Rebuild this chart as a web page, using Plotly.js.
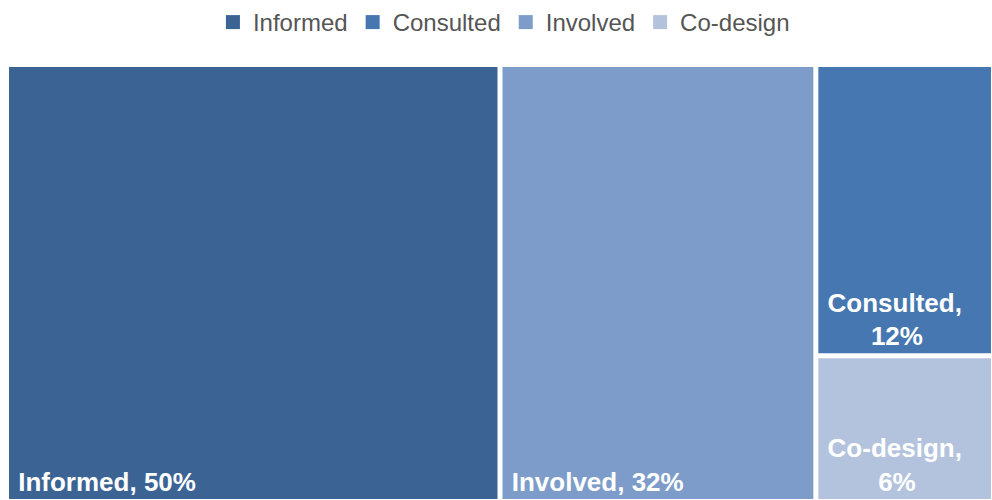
<!DOCTYPE html>
<html>
<head>
<meta charset="utf-8">
<script src="https://cdn.plot.ly/plotly-3.0.1.min.js"></script>
<style>html,body{margin:0;padding:0;background:#fff;}#chart{width:992px;height:500px;}</style>
</head>
<body>
<div id="chart"></div>
<script>
const categories = ["Informed", "Consulted", "Involved", "Co-design"];
const values = [50, 12, 32, 6];
const colors = ["#3b6494", "#4677b0", "#7d9cc9", "#b4c3dd"];
const wrapLabel = [false, true, false, true];

const NB = "\u00a0";
// label text: narrow tiles wrap onto two lines, second line roughly centred
const textLabels = categories.map((c, i) => {
  if (!wrapLabel[i]) return NB + c + ", " + values[i] + "%";
  const pad = NB.repeat(String(values[i]).length > 1 ? 7 : 8);
  return NB + c + ",<br>" + pad + values[i] + "%";
});

const treemap = {
  type: "treemap",
  labels: categories,
  parents: categories.map(() => ""),
  values: values,
  text: textLabels,
  textinfo: "text",
  hoverinfo: "skip",
  textposition: "bottom left",
  textfont: {family: "Liberation Sans, Arial, sans-serif", size: 26, color: "#ffffff", weight: "bold"},
  marker: {colors: colors, line: {width: 2, color: "#ffffff"}, pad: {t: 0, l: 0, r: 0, b: 0}},
  pathbar: {visible: false},
  root: {color: "#ffffff"},
  sort: true,
  domain: {x: [8 / 992, 1], y: [0, 434 / 500]},
  showlegend: false
};

const legendTraces = categories.map((c, i) => ({
  type: "scatter",
  mode: "markers",
  x: [null], y: [null],
  name: c,
  marker: {symbol: "square", size: 14, color: colors[i]},
  showlegend: true,
  hoverinfo: "skip"
}));

const layout = {
  width: 992, height: 500,
  margin: {l: 0, r: 0, t: 0, b: 0},
  paper_bgcolor: "#ffffff", plot_bgcolor: "#ffffff",
  showlegend: true,
  legend: {orientation: "h", x: 0.508, xanchor: "center", y: 1, yanchor: "top",
           font: {family: "Liberation Sans, Arial, sans-serif", size: 24, color: "#555555"},
           itemwidth: 30, tracegroupgap: 0},
  xaxis: {visible: false},
  yaxis: {visible: false}
};

Plotly.newPlot("chart", [treemap].concat(legendTraces), layout, {displayModeBar: false, staticPlot: true});
</script>
</body>
</html>
